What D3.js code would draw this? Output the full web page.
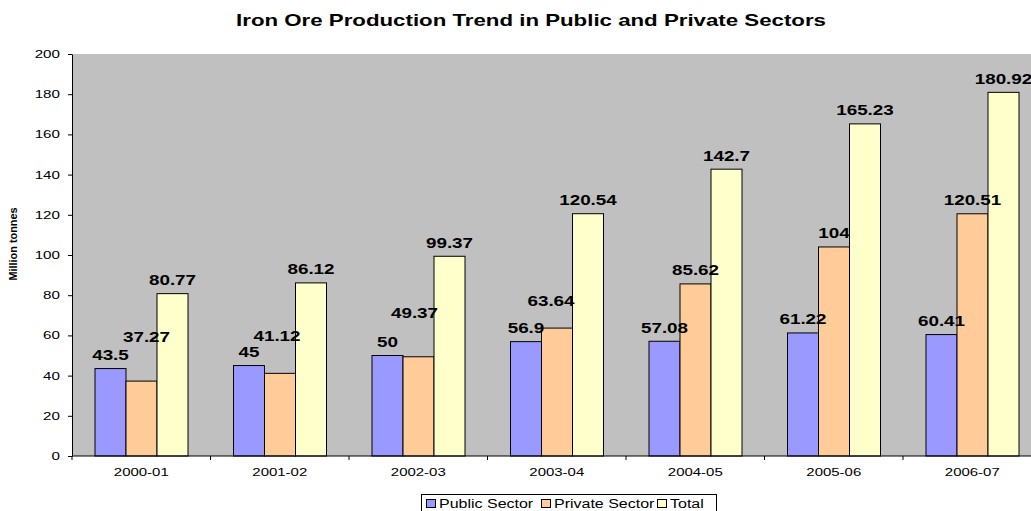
<!DOCTYPE html>
<html>
<head>
<meta charset="utf-8">
<script src="https://cdn.jsdelivr.net/npm/d3@7"></script>
<style>
  body { margin: 0; background: #fff; }
  svg { font-family: "Liberation Sans", Arial, sans-serif; display: block; }
</style>
</head>
<body>
<svg id="canvas" width="1031" height="511"></svg>
<script>
// chart data
const years = ["2000-01", "2001-02", "2002-03", "2003-04", "2004-05", "2005-06", "2006-07"];
const publicSector = [43.5, 45, 50, 56.9, 57.08, 61.22, 60.41];
const privateSector = [37.27, 41.12, 49.37, 63.64, 85.62, 104, 120.51];
const total = [80.77, 86.12, 99.37, 120.54, 142.7, 165.23, 180.92];
const seriesNames = ["Public Sector", "Private Sector", "Total"];
const yTicks = [0, 20, 40, 60, 80, 100, 120, 140, 160, 180, 200];

// some labels were dragged by hand in the original, [dx, dy] px
const privateLabelNudge = [[5, -31], [-3, -24], [-4, -30], [-6, -14], [0, 0], [0, 0], [0, 0]];
const totalLabelNudge = [[0, 0], [0, 0], [0, 0], [0, 0], [0, 0], [0, 0], [0, 0]];
const publicLabelNudge = [[0, 0], [0, 0], [0, 0], [0, 0], [0, 0], [0, 0], [0, 0]];

const svg = d3.select("#canvas");
const plotLeft = 72, plotTop = 54, plotBottom = 456, bandW = 138.5;
const plotRight = plotLeft + bandW * years.length;

// the original picture is stretched sideways, so text gets widened too
function stretch(sel, sx) {
    sel.each(function() {
        const t = d3.select(this);
        const tx = +t.attr("x") || 0, ty = +t.attr("y") || 0;
        t.attr("transform", "translate(" + tx + "," + ty + ") scale(" + sx + ",1)")
         .attr("x", 0).attr("y", 0);
    });
}

const color = d3.scaleOrdinal()
    .domain(seriesNames)
    .range(["#9999ff", "#ffcc99", "#ffffcc"]);

const x0 = d3.scaleBand().domain(years).range([plotLeft, plotRight]);
const x1 = d3.scaleBand().domain(seriesNames).range([23, 23 + 31 * 3]);
const y = d3.scaleLinear().domain([0, 200]).range([plotBottom, plotTop]);

// build rows from the arrays
const rows = years.map((yr, i) => ({
    year: yr,
    vals: [
        {key: "Public Sector", v: publicSector[i], nudge: publicLabelNudge[i]},
        {key: "Private Sector", v: privateSector[i], nudge: privateLabelNudge[i]},
        {key: "Total", v: total[i], nudge: totalLabelNudge[i]}
    ]
}));

// plot background
svg.append("rect")
    .attr("x", plotLeft).attr("y", plotTop)
    .attr("width", plotRight - plotLeft).attr("height", plotBottom - plotTop)
    .attr("fill", "#c0c0c0");

// title
svg.append("text")
    .attr("x", 531).attr("y", 26)
    .attr("text-anchor", "middle")
    .style("font-size", "17px").style("font-weight", "bold")
    .text("Iron Ore Production Trend in Public and Private Sectors")
    .call(stretch, 1.31);

// bars
const groups = svg.selectAll(".grp")
    .data(rows)
    .join("g")
    .attr("class", "grp")
    .attr("transform", d => "translate(" + x0(d.year) + ",0)");

groups.selectAll("rect")
    .data(d => d.vals)
    .join("rect")
    .attr("x", d => x1(d.key))
    .attr("y", d => y(d.v))
    .attr("width", x1.bandwidth())
    .attr("height", d => plotBottom - y(d.v))
    .attr("fill", d => color(d.key))
    .attr("stroke", "#000")
    .attr("stroke-width", 1);

groups.selectAll("text")
    .data(d => d.vals)
    .join("text")
    .attr("x", d => x1(d.key) + x1.bandwidth() / 2 + d.nudge[0])
    .attr("y", d => y(d.v) - 8.5 + d.nudge[1])
    .attr("text-anchor", "middle")
    .style("font-size", "14.5px").style("font-weight", "bold")
    .text(d => d.v)
    .call(stretch, 1.3);

// y axis
const yAxis = svg.append("g")
    .attr("transform", "translate(" + plotLeft + ",0)")
    .call(d3.axisLeft(y).tickValues(yTicks).tickSize(4).tickSizeOuter(0).tickPadding(8));
yAxis.select(".domain").attr("stroke", "#000");
yAxis.selectAll("text")
    .style("font-size", "11px").style("font-family", "Liberation Sans, Arial, sans-serif")
    .call(stretch, 1.38);

// x axis, ticks sit between categories
const xAxis = svg.append("g")
    .attr("transform", "translate(0," + plotBottom + ")");
xAxis.append("line")
    .attr("x1", plotLeft).attr("x2", plotRight)
    .attr("stroke", "#000");
xAxis.selectAll(".sep")
    .data(years.concat(["end"]))
    .join("line")
    .attr("class", "sep")
    .attr("x1", (d, i) => plotLeft + i * x0.step())
    .attr("x2", (d, i) => plotLeft + i * x0.step())
    .attr("y1", 0).attr("y2", 4)
    .attr("stroke", "#000");
xAxis.selectAll(".lbl")
    .data(years)
    .join("text")
    .attr("class", "lbl")
    .attr("x", d => x0(d) + x0.bandwidth() / 2)
    .attr("y", 20)
    .attr("text-anchor", "middle")
    .style("font-size", "11px")
    .text(d => d)
    .call(stretch, 1.36);

// y axis title
svg.append("text")
    .attr("transform", "translate(17,244) rotate(-90)")
    .attr("text-anchor", "middle")
    .attr("textLength", 73).attr("lengthAdjust", "spacingAndGlyphs")
    .style("font-size", "10px").style("font-weight", "bold")
    .text("Million tonnes");

// legend (nudged up a little so the text stays inside the frame)
const legend = svg.append("g").attr("transform", "translate(421.5,494.5)");
legend.append("rect")
    .attr("width", 295).attr("height", 20)
    .attr("fill", "#fff").attr("stroke", "#000");
const legendX = [5, 120, 236];
const item = legend.selectAll(".item")
    .data(seriesNames)
    .join("g")
    .attr("class", "item")
    .attr("transform", (d, i) => "translate(" + legendX[i] + ",0)");
item.append("rect")
    .attr("x", 0).attr("y", 5)
    .attr("width", 9).attr("height", 8)
    .attr("fill", d => color(d)).attr("stroke", "#000");
item.append("text")
    .attr("x", 12.5).attr("y", 13.3)
    .style("font-size", "12.5px")
    .text(d => d)
    .call(stretch, 1.28);
</script>
</body>
</html>
